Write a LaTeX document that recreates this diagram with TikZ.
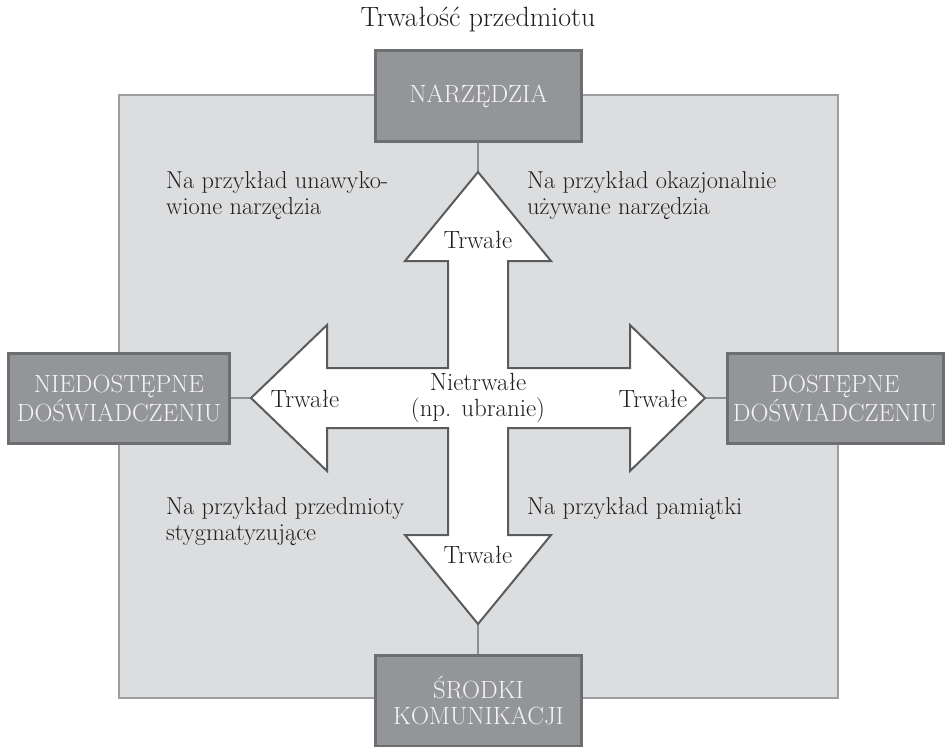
\documentclass[tikz,border=0pt]{standalone}
\usepackage{fontspec}
\definecolor{bgfill}{HTML}{DCDDDE}
\definecolor{bgline}{HTML}{9D9EA0}
\definecolor{boxfill}{HTML}{939598}
\definecolor{boxline}{HTML}{6D6E70}
\definecolor{boxtext}{HTML}{F4F4F4}
\definecolor{arrowline}{HTML}{5A5B5D}
\definecolor{connline}{HTML}{8E8F91}
\definecolor{ink}{HTML}{231F20}
\tikzset{
  catbox/.style={draw=boxline, line width=3bp, fill=boxfill, text=boxtext,
    align=center, inner sep=0pt, font=\fontsize{25}{27}\selectfont},
  conn/.style={draw=connline, line width=2.5bp},
  crossarrow/.style={draw=arrowline, line width=2bp, fill=white, line join=miter},
  lbl/.style={inner sep=0pt, text=ink, font=\fontsize{24.5}{27}\selectfont},
  arrlbl/.style={lbl, font=\fontsize{25}{27}\selectfont},
}
\begin{document}
\begin{tikzpicture}[x=1bp,y=-1bp]
\useasboundingbox (0,0) rectangle (945,747);
% background panel
\draw[draw=bgline, line width=2bp, fill=bgfill] (119,95) rectangle (838,698);
% boxes
\node[catbox, minimum width=206bp, minimum height=91bp] (narz) at (478.5,96) {NARZĘDZIA};
\node[catbox, minimum width=221bp, minimum height=90bp] (nied) at (119,398.5) {NIEDOSTĘPNE\\DOŚWIADCZENIU};
\node[catbox, minimum width=216bp, minimum height=90bp] (dost) at (835,398.5) {DOSTĘPNE\\DOŚWIADCZENIU};
\node[catbox, minimum width=206bp, minimum height=91bp] (srod) at (478.5,700.5) {ŚRODKI\\KOMUNIKACJI};
% arrow tips
\coordinate (tipT) at (478,172);
\coordinate (tipB) at (478,624);
\coordinate (tipL) at (251,398);
\coordinate (tipR) at (705,398);
% connectors
\draw[conn] (tipT) -- (tipT |- narz.south);
\draw[conn] (tipB) -- (tipB |- srod.north);
\draw[conn] (tipL) -- (nied.east |- tipL);
\draw[conn] (tipR) -- (dost.west |- tipR);
% redraw boxes over connector ends
\node[catbox, minimum width=206bp, minimum height=91bp] at (narz) {NARZĘDZIA};
\node[catbox, minimum width=206bp, minimum height=91bp] at (srod) {ŚRODKI\\KOMUNIKACJI};
\node[catbox, minimum width=221bp, minimum height=90bp] at (nied) {NIEDOSTĘPNE\\DOŚWIADCZENIU};
\node[catbox, minimum width=216bp, minimum height=90bp] at (dost) {DOSTĘPNE\\DOŚWIADCZENIU};
% cross-shaped four-way arrow
\draw[crossarrow] (tipT) -- (551,261) -- (508,261) -- (508,368) -- (630,368) -- (630,325)
  -- (tipR) -- (630,471) -- (630,428) -- (508,428) -- (508,535) -- (551,535)
  -- (tipB) -- (405,535) -- (448,535) -- (448,428) -- (327,428) -- (327,471)
  -- (tipL) -- (327,325) -- (327,368) -- (448,368) -- (448,261) -- (405,261) -- cycle;
% title
\node[lbl, anchor=base, font=\fontsize{28}{30}\selectfont] (title) at (478,27) {Trwałość przedmiotu};
% arrow labels
\node[arrlbl, anchor=base] (trT) at (478,248) {Trwałe};
\node[arrlbl, anchor=base] (trB) at (478,563) {Trwałe};
\node[arrlbl, anchor=base] (trL) at (305,407) {Trwałe};
\node[arrlbl, anchor=base] (trR) at (653,407) {Trwałe};
\node[arrlbl, anchor=base] (niet1) at (478,390) {Nietrwałe};
\node[arrlbl, anchor=base] (niet2) at (478,416) {(np. ubranie)};
% quadrant examples
\node[lbl, anchor=base west] (q1a) at (166,188) {Na przykład unawyko-};
\node[lbl, anchor=base west] (q1b) at (166,214) {wione narzędzia};
\node[lbl, anchor=base west] (q2a) at (527,188) {Na przykład okazjonalnie};
\node[lbl, anchor=base west] (q2b) at (527,214) {używane narzędzia};
\node[lbl, anchor=base west] (q3a) at (166,514) {Na przykład przedmioty};
\node[lbl, anchor=base west] (q3b) at (166,540) {stygmatyzujące};
\node[lbl, anchor=base west] (q4a) at (527,514) {Na przykład pamiątki};
\end{tikzpicture}
\end{document}
